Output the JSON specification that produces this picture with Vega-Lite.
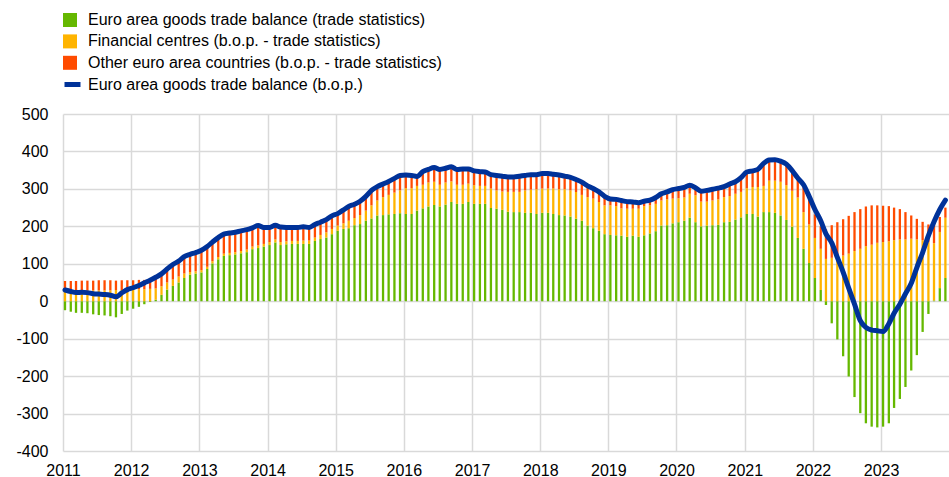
{
 "$schema": "https://vega.github.io/schema/vega-lite/v6.json",
 "width": 886, "height": 337,
 "autosize": {"type": "none"},
 "padding": {"left": 63, "top": 114, "right": 0, "bottom": 26},
 "background": "white",
 "config": {
  "view": {"stroke": null},
  "font": "Liberation Sans",
  "axis": {"labelFont": "Liberation Sans", "labelFontSize": 16, "labelColor": "#000000", "gridColor": "#d9d9d9", "gridWidth": 1.5, "domain": false, "ticks": false, "title": null},
  "legend": {"labelFont": "Liberation Sans", "labelFontSize": 16, "labelColor": "#000000", "labelLimit": 600}
 },
 "data": {"values": [
{"d":"2011-01-01","s1":-24,"s2":28,"s3":26,"bop":30},
{"d":"2011-02-01","s1":-28,"s2":28,"s3":26,"bop":26},
{"d":"2011-03-01","s1":-31,"s2":28,"s3":26,"bop":23},
{"d":"2011-04-01","s1":-31,"s2":28,"s3":27,"bop":24},
{"d":"2011-05-01","s1":-32,"s2":29,"s3":26,"bop":23},
{"d":"2011-06-01","s1":-35,"s2":29,"s3":26,"bop":20},
{"d":"2011-07-01","s1":-37,"s2":29,"s3":27,"bop":19},
{"d":"2011-08-01","s1":-38,"s2":29,"s3":27,"bop":18},
{"d":"2011-09-01","s1":-40,"s2":29,"s3":27,"bop":16},
{"d":"2011-10-01","s1":-43,"s2":30,"s3":25,"bop":12},
{"d":"2011-11-01","s1":-34,"s2":30,"s3":26,"bop":22},
{"d":"2011-12-01","s1":-25,"s2":30,"s3":26,"bop":31},
{"d":"2012-01-01","s1":-20,"s2":32,"s3":24,"bop":36},
{"d":"2012-02-01","s1":-15,"s2":32,"s3":25,"bop":42},
{"d":"2012-03-01","s1":-8,"s2":32,"s3":25,"bop":49},
{"d":"2012-04-01","s1":-2,"s2":33,"s3":25,"bop":56},
{"d":"2012-05-01","s1":4,"s2":30,"s3":30,"bop":64},
{"d":"2012-06-01","s1":17,"s2":23,"s3":33,"bop":73},
{"d":"2012-07-01","s1":31,"s2":19,"s3":36,"bop":86},
{"d":"2012-08-01","s1":41,"s2":17,"s3":40,"bop":98},
{"d":"2012-09-01","s1":50,"s2":16,"s3":41,"bop":107},
{"d":"2012-10-01","s1":62,"s2":12,"s3":45,"bop":119},
{"d":"2012-11-01","s1":71,"s2":7,"s3":47,"bop":125},
{"d":"2012-12-01","s1":74,"s2":6,"s3":50,"bop":130},
{"d":"2013-01-01","s1":77,"s2":6,"s3":53,"bop":136},
{"d":"2013-02-01","s1":86,"s2":6,"s3":54,"bop":146},
{"d":"2013-03-01","s1":101,"s2":6,"s3":51,"bop":158},
{"d":"2013-04-01","s1":112,"s2":6,"s3":52,"bop":170},
{"d":"2013-05-01","s1":121,"s2":6,"s3":52,"bop":179},
{"d":"2013-06-01","s1":123,"s2":6,"s3":53,"bop":182},
{"d":"2013-07-01","s1":125,"s2":6,"s3":53,"bop":184},
{"d":"2013-08-01","s1":128,"s2":6,"s3":54,"bop":188},
{"d":"2013-09-01","s1":131,"s2":7,"s3":53,"bop":191},
{"d":"2013-10-01","s1":139,"s2":7,"s3":50,"bop":196},
{"d":"2013-11-01","s1":142,"s2":7,"s3":53,"bop":202},
{"d":"2013-12-01","s1":146,"s2":7,"s3":44,"bop":197},
{"d":"2014-01-01","s1":150,"s2":8,"s3":39,"bop":197},
{"d":"2014-02-01","s1":157,"s2":8,"s3":38,"bop":203},
{"d":"2014-03-01","s1":150,"s2":8,"s3":40,"bop":198},
{"d":"2014-04-01","s1":152,"s2":8,"s3":37,"bop":197},
{"d":"2014-05-01","s1":153,"s2":8,"s3":36,"bop":197},
{"d":"2014-06-01","s1":153,"s2":8,"s3":36,"bop":197},
{"d":"2014-07-01","s1":153,"s2":9,"s3":37,"bop":199},
{"d":"2014-08-01","s1":153,"s2":9,"s3":35,"bop":197},
{"d":"2014-09-01","s1":161,"s2":9,"s3":35,"bop":205},
{"d":"2014-10-01","s1":166,"s2":11,"s3":34,"bop":211},
{"d":"2014-11-01","s1":170,"s2":14,"s3":34,"bop":218},
{"d":"2014-12-01","s1":179,"s2":14,"s3":35,"bop":228},
{"d":"2015-01-01","s1":188,"s2":14,"s3":32,"bop":234},
{"d":"2015-02-01","s1":193,"s2":15,"s3":36,"bop":244},
{"d":"2015-03-01","s1":195,"s2":20,"s3":38,"bop":253},
{"d":"2015-04-01","s1":203,"s2":19,"s3":37,"bop":259},
{"d":"2015-05-01","s1":206,"s2":24,"s3":37,"bop":267},
{"d":"2015-06-01","s1":215,"s2":27,"s3":38,"bop":280},
{"d":"2015-07-01","s1":221,"s2":35,"s3":40,"bop":296},
{"d":"2015-08-01","s1":229,"s2":40,"s3":37,"bop":306},
{"d":"2015-09-01","s1":230,"s2":48,"s3":35,"bop":313},
{"d":"2015-10-01","s1":232,"s2":52,"s3":36,"bop":320},
{"d":"2015-11-01","s1":233,"s2":57,"s3":38,"bop":328},
{"d":"2015-12-01","s1":235,"s2":61,"s3":40,"bop":336},
{"d":"2016-01-01","s1":233,"s2":69,"s3":35,"bop":337},
{"d":"2016-02-01","s1":233,"s2":69,"s3":34,"bop":336},
{"d":"2016-03-01","s1":242,"s2":66,"s3":25,"bop":333},
{"d":"2016-04-01","s1":248,"s2":63,"s3":35,"bop":346},
{"d":"2016-05-01","s1":253,"s2":64,"s3":35,"bop":352},
{"d":"2016-06-01","s1":257,"s2":62,"s3":38,"bop":357},
{"d":"2016-07-01","s1":253,"s2":58,"s3":41,"bop":352},
{"d":"2016-08-01","s1":258,"s2":59,"s3":38,"bop":355},
{"d":"2016-09-01","s1":265,"s2":55,"s3":39,"bop":359},
{"d":"2016-10-01","s1":260,"s2":51,"s3":41,"bop":352},
{"d":"2016-11-01","s1":260,"s2":51,"s3":42,"bop":353},
{"d":"2016-12-01","s1":265,"s2":49,"s3":39,"bop":353},
{"d":"2017-01-01","s1":260,"s2":50,"s3":38,"bop":348},
{"d":"2017-02-01","s1":260,"s2":48,"s3":38,"bop":346},
{"d":"2017-03-01","s1":260,"s2":48,"s3":37,"bop":345},
{"d":"2017-04-01","s1":249,"s2":52,"s3":37,"bop":338},
{"d":"2017-05-01","s1":247,"s2":49,"s3":40,"bop":336},
{"d":"2017-06-01","s1":244,"s2":49,"s3":41,"bop":334},
{"d":"2017-07-01","s1":239,"s2":53,"s3":40,"bop":332},
{"d":"2017-08-01","s1":238,"s2":54,"s3":40,"bop":332},
{"d":"2017-09-01","s1":238,"s2":54,"s3":42,"bop":334},
{"d":"2017-10-01","s1":236,"s2":60,"s3":40,"bop":336},
{"d":"2017-11-01","s1":236,"s2":62,"s3":40,"bop":338},
{"d":"2017-12-01","s1":233,"s2":66,"s3":39,"bop":338},
{"d":"2018-01-01","s1":236,"s2":65,"s3":40,"bop":341},
{"d":"2018-02-01","s1":236,"s2":65,"s3":40,"bop":341},
{"d":"2018-03-01","s1":233,"s2":68,"s3":38,"bop":339},
{"d":"2018-04-01","s1":230,"s2":69,"s3":38,"bop":337},
{"d":"2018-05-01","s1":229,"s2":70,"s3":35,"bop":334},
{"d":"2018-06-01","s1":226,"s2":70,"s3":35,"bop":331},
{"d":"2018-07-01","s1":220,"s2":72,"s3":33,"bop":325},
{"d":"2018-08-01","s1":215,"s2":69,"s3":34,"bop":318},
{"d":"2018-09-01","s1":202,"s2":76,"s3":30,"bop":308},
{"d":"2018-10-01","s1":195,"s2":79,"s3":27,"bop":301},
{"d":"2018-11-01","s1":188,"s2":77,"s3":27,"bop":292},
{"d":"2018-12-01","s1":179,"s2":77,"s3":24,"bop":280},
{"d":"2019-01-01","s1":177,"s2":79,"s3":17,"bop":273},
{"d":"2019-02-01","s1":176,"s2":78,"s3":19,"bop":272},
{"d":"2019-03-01","s1":175,"s2":73,"s3":21,"bop":269},
{"d":"2019-04-01","s1":172,"s2":75,"s3":19,"bop":266},
{"d":"2019-05-01","s1":175,"s2":72,"s3":18,"bop":265},
{"d":"2019-06-01","s1":172,"s2":75,"s3":16,"bop":263},
{"d":"2019-07-01","s1":176,"s2":78,"s3":13,"bop":267},
{"d":"2019-08-01","s1":181,"s2":75,"s3":14,"bop":270},
{"d":"2019-09-01","s1":187,"s2":73,"s3":17,"bop":277},
{"d":"2019-10-01","s1":202,"s2":67,"s3":18,"bop":287},
{"d":"2019-11-01","s1":203,"s2":69,"s3":20,"bop":292},
{"d":"2019-12-01","s1":208,"s2":66,"s3":24,"bop":298},
{"d":"2020-01-01","s1":211,"s2":64,"s3":26,"bop":301},
{"d":"2020-02-01","s1":215,"s2":62,"s3":27,"bop":304},
{"d":"2020-03-01","s1":223,"s2":64,"s3":23,"bop":310},
{"d":"2020-04-01","s1":211,"s2":72,"s3":20,"bop":303},
{"d":"2020-05-01","s1":200,"s2":66,"s3":28,"bop":294},
{"d":"2020-06-01","s1":202,"s2":64,"s3":30,"bop":296},
{"d":"2020-07-01","s1":203,"s2":66,"s3":30,"bop":299},
{"d":"2020-08-01","s1":204,"s2":68,"s3":30,"bop":302},
{"d":"2020-09-01","s1":211,"s2":67,"s3":28,"bop":306},
{"d":"2020-10-01","s1":212,"s2":69,"s3":32,"bop":313},
{"d":"2020-11-01","s1":218,"s2":69,"s3":32,"bop":319},
{"d":"2020-12-01","s1":224,"s2":68,"s3":38,"bop":330},
{"d":"2021-01-01","s1":233,"s2":69,"s3":43,"bop":345},
{"d":"2021-02-01","s1":233,"s2":72,"s3":43,"bop":348},
{"d":"2021-03-01","s1":226,"s2":79,"s3":47,"bop":352},
{"d":"2021-04-01","s1":238,"s2":70,"s3":60,"bop":368},
{"d":"2021-05-01","s1":238,"s2":84,"s3":55,"bop":377},
{"d":"2021-06-01","s1":236,"s2":86,"s3":56,"bop":378},
{"d":"2021-07-01","s1":229,"s2":90,"s3":55,"bop":374},
{"d":"2021-08-01","s1":217,"s2":93,"s3":57,"bop":366},
{"d":"2021-09-01","s1":199,"s2":96,"s3":54,"bop":349},
{"d":"2021-10-01","s1":169,"s2":108,"s3":52,"bop":329},
{"d":"2021-11-01","s1":140,"s2":98,"s3":66,"bop":311},
{"d":"2021-12-01","s1":102,"s2":103,"s3":67,"bop":280},
{"d":"2022-01-01","s1":62,"s2":107,"s3":63,"bop":245},
{"d":"2022-02-01","s1":30,"s2":110,"s3":60,"bop":215},
{"d":"2022-03-01","s1":-10,"s2":113,"s3":79,"bop":180},
{"d":"2022-04-01","s1":-59,"s2":116,"s3":87,"bop":156},
{"d":"2022-05-01","s1":-102,"s2":120,"s3":91,"bop":117},
{"d":"2022-06-01","s1":-147,"s2":122,"s3":97,"bop":78},
{"d":"2022-07-01","s1":-201,"s2":127,"s3":101,"bop":35},
{"d":"2022-08-01","s1":-256,"s2":134,"s3":104,"bop":-8},
{"d":"2022-09-01","s1":-299,"s2":140,"s3":106,"bop":-52},
{"d":"2022-10-01","s1":-326,"s2":147,"s3":106,"bop":-70},
{"d":"2022-11-01","s1":-335,"s2":151,"s3":105,"bop":-77},
{"d":"2022-12-01","s1":-337,"s2":156,"s3":100,"bop":-79},
{"d":"2023-01-01","s1":-335,"s2":158,"s3":97,"bop":-81},
{"d":"2023-02-01","s1":-326,"s2":160,"s3":94,"bop":-60},
{"d":"2023-03-01","s1":-285,"s2":163,"s3":87,"bop":-32},
{"d":"2023-04-01","s1":-261,"s2":165,"s3":81,"bop":-8},
{"d":"2023-05-01","s1":-229,"s2":165,"s3":73,"bop":20},
{"d":"2023-06-01","s1":-185,"s2":167,"s3":62,"bop":48},
{"d":"2023-07-01","s1":-144,"s2":165,"s3":55,"bop":90},
{"d":"2023-08-01","s1":-82,"s2":163,"s3":49,"bop":130},
{"d":"2023-09-01","s1":-34,"s2":158,"s3":47,"bop":175},
{"d":"2023-10-01","s1":2,"s2":153,"s3":50,"bop":212},
{"d":"2023-11-01","s1":35,"s2":150,"s3":40,"bop":245},
{"d":"2023-12-01","s1":62,"s2":161,"s3":27,"bop":270}
 ]},
 "layer": [
  {
   "transform": [{"fold": ["s1", "s2", "s3"], "as": ["key", "value"]}],
   "mark": {"type": "bar", "width": 2.3, "xOffset": 2},
   "encoding": {
    "x": {"field": "d", "type": "temporal",
     "scale": {"type": "utc", "padding": 0, "nice": false, "domain": [{"year": 2011, "month": 1, "date": 1, "utc": true}, {"year": 2023, "month": 12, "date": 31, "utc": true}]},
     "axis": {"tickCount": {"interval": "year", "step": 1}, "format": "%Y", "formatType": "utc", "labelPadding": 11, "labelFontSize": 16, "grid": true, "labelAlign": "center"}},
    "y": {"field": "value", "type": "quantitative", "stack": "zero",
     "scale": {"domain": [-400, 500], "nice": false, "zero": false},
     "axis": {"values": [-400, -300, -200, -100, 0, 100, 200, 300, 400, 500], "labelExpr": "'' + datum.value", "labelPadding": 15, "labelFontSize": 16, "grid": true}},
    "color": {"field": "key", "type": "nominal",
     "scale": {"domain": ["s1", "s2", "s3"], "range": ["#65b800", "#ffb400", "#ff4b00"]},
     "legend": {"orient": "none", "legendX": -1, "legendY": -102, "title": null, "symbolType": "square", "symbolSize": 196, "symbolStrokeWidth": 0, "rowPadding": 5.4, "labelOffset": 10,
      "labelExpr": "datum.label == 's1' ? 'Euro area goods trade balance (trade statistics)' : datum.label == 's2' ? 'Financial centres (b.o.p. - trade statistics)' : 'Other euro area countries (b.o.p. - trade statistics)'"}},
    "order": {"field": "key", "sort": "ascending"}
   }
  },
  {
   "mark": {"type": "line", "strokeWidth": 5, "interpolate": "monotone", "xOffset": 2, "strokeJoin": "round", "strokeCap": "round"},
   "encoding": {
    "x": {"field": "d", "type": "temporal",
     "axis": {"tickCount": {"interval": "year", "step": 1}, "format": "%Y", "formatType": "utc", "labelPadding": 11, "labelFontSize": 16, "grid": true, "labelAlign": "center"}},
    "y": {"field": "bop", "type": "quantitative",
     "axis": {"values": [-400, -300, -200, -100, 0, 100, 200, 300, 400, 500], "labelExpr": "'' + datum.value", "labelPadding": 15, "labelFontSize": 16, "grid": true}},
    "stroke": {"datum": "Euro area goods trade balance (b.o.p.)", "type": "nominal",
     "scale": {"range": ["#003299"]},
     "legend": {"orient": "none", "legendX": -1, "legendY": -40, "title": null, "symbolType": "stroke", "symbolStrokeWidth": 5, "symbolSize": 256, "labelOffset": 5}}
   }
  }
 ]
}
